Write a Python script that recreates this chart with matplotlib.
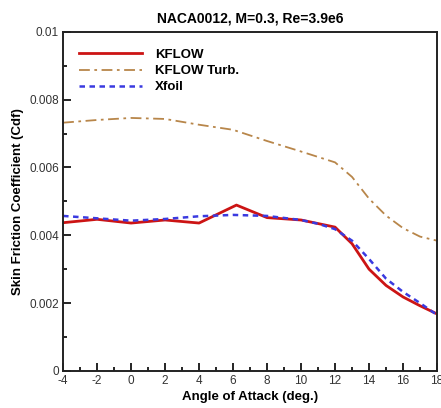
import numpy as np
import matplotlib.pyplot as plt
from matplotlib.ticker import MultipleLocator, FuncFormatter

plt.rcParams['font.family'] = ['Liberation Sans', 'DejaVu Sans']
plt.rcParams['axes.unicode_minus'] = False

# Skin friction vs angle of attack, NACA0012
alpha = [-4, -2, 0, 2, 4, 6.2, 8, 10, 12, 13, 14, 15, 16, 17, 18]
cdf_kflow = [0.00437, 0.00447, 0.00436, 0.00445, 0.00436, 0.00489, 0.00452,
             0.00445, 0.00424, 0.00375, 0.00300, 0.00252, 0.00218, 0.00192, 0.00168]

alpha_turb = [-4, -2, 0, 2, 4, 6, 8, 10, 12, 13, 14, 15, 16, 17, 18]
cdf_turb = [0.00732, 0.00740, 0.00746, 0.00743, 0.00726, 0.00711, 0.00678,
            0.00647, 0.00615, 0.00572, 0.00508, 0.00458, 0.00421, 0.00396, 0.00384]

alpha_xfoil = [-4, -2, 0, 2, 4, 6, 8, 10, 11, 12, 13, 14, 15, 16, 17, 18]
cdf_xfoil = [0.00457, 0.00450, 0.00443, 0.00448, 0.00456, 0.00460, 0.00457,
             0.00445, 0.00434, 0.00418, 0.00384, 0.00330, 0.00272, 0.00233, 0.00200, 0.00165]

fig = plt.figure(figsize=(4.41, 4.08), dpi=100)
ax = fig.add_axes([0.143, 0.091, 0.848, 0.831])

ax.plot(alpha, cdf_kflow, color='#cc1414', lw=2.0, label='KFLOW')
ax.plot(alpha_turb, cdf_turb, color='#b8864a', lw=1.3, ls=(0, (6, 2.5, 1.5, 2.5)), label='KFLOW Turb.')
ax.plot(alpha_xfoil, cdf_xfoil, color='#3a3ae0', lw=1.8, ls=(0, (2.2, 1.8)), label='Xfoil')

ax.set_xlim(-4, 18)
ax.set_ylim(0, 0.01)
ax.xaxis.set_major_locator(MultipleLocator(2))
ax.xaxis.set_minor_locator(MultipleLocator(1))
ax.yaxis.set_major_locator(MultipleLocator(0.002))
ax.yaxis.set_minor_locator(MultipleLocator(0.001))
ax.yaxis.set_major_formatter(FuncFormatter(lambda v, p: '%g' % round(v, 4)))
ax.tick_params(which='both', direction='in', top=False, right=False,
               labelsize=8.5, labelcolor='#333333', width=1.2)
ax.tick_params(which='major', length=6, pad=3)
ax.tick_params(which='minor', length=3)
for sp in ax.spines.values():
    sp.set_linewidth(1.4)
    sp.set_color('#222222')

ax.set_xlabel('Angle of Attack (deg.)', fontsize=9.5, fontweight='bold', labelpad=3)
ax.set_ylabel('Skin Friction Coefficient (Cdf)', fontsize=9.5, fontweight='bold', labelpad=4)
ax.set_title('NACA0012, M=0.3, Re=3.9e6', fontsize=10, fontweight='semibold', pad=7)

ax.legend(loc='upper left', bbox_to_anchor=(0.01, 0.985), frameon=False,
          handlelength=4.8, handletextpad=1.0, labelspacing=0.3,
          prop={'weight': 'bold', 'size': 9.5})

fig.savefig('out.png', dpi=100)
